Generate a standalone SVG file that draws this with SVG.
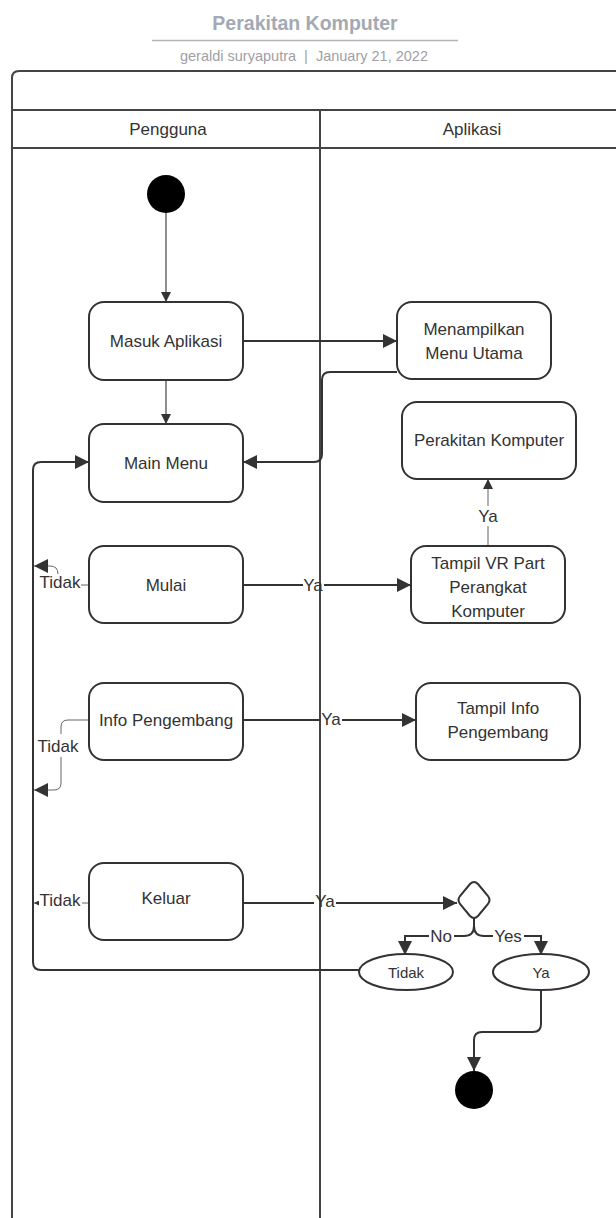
<svg xmlns="http://www.w3.org/2000/svg" width="616" height="1218" viewBox="0 0 616 1218">
  <style>
    .lbl { font-family: "Liberation Sans", Arial, sans-serif; font-size: 17px; fill: #333; text-anchor: middle; dominant-baseline: central; }
    .small { font-size: 15px; }
    .box { fill: #fff; stroke: #333; stroke-width: 2; }
    .lane { fill: none; stroke: #444; stroke-width: 2; }
    .edge { fill: none; stroke: #333; stroke-width: 2; }
    .thin { fill: none; stroke: #444; stroke-width: 1.2; }
    .faint { fill: none; stroke: #666; stroke-width: 1; }
    .tag { font-family: "Liberation Sans", Arial, sans-serif; font-size: 17px; fill: #333; text-anchor: middle; dominant-baseline: central; }
  </style>
  <defs>
    <marker id="arrow" viewBox="0 0 10 10" refX="10" refY="5" markerWidth="10" markerHeight="10" markerUnits="userSpaceOnUse" orient="auto">
      <path d="M0,0 L10,5 L0,10 z" fill="#333"/>
    </marker>
    <marker id="arrowL" viewBox="0 0 10 10" refX="10" refY="5" markerWidth="18" markerHeight="14" markerUnits="userSpaceOnUse" orient="auto">
      <path d="M0,0 L10,5 L0,10 z" fill="#333"/>
    </marker>
    <marker id="arrowS" viewBox="0 0 10 10" refX="10" refY="5" markerWidth="5" markerHeight="5" markerUnits="userSpaceOnUse" orient="auto">
      <path d="M0,0 L10,5 L0,10 z" fill="#333"/>
    </marker>
  </defs>

  <!-- header -->
  <g id="title">
    <text x="305" y="23" font-family="Liberation Sans, Arial, sans-serif" font-size="19.5" font-weight="bold" fill="#a4a9b3" text-anchor="middle" dominant-baseline="central">Perakitan Komputer</text>
    <line x1="152" y1="40.5" x2="458" y2="40.5" stroke="#b4b4b8" stroke-width="1.5"/>
    <text x="304" y="56" font-family="Liberation Sans, Arial, sans-serif" font-size="14.5" fill="#a0a0a6" text-anchor="middle" dominant-baseline="central" xml:space="preserve">geraldi suryaputra  |  January 21, 2022</text>
  </g>

  <!-- swimlane frame -->
  <g id="pool">
    <path class="lane" d="M630,71 H19 Q12,71 12,78 V1230"/>
    <line class="lane" x1="12" y1="110" x2="630" y2="110"/>
    <line class="lane" x1="12" y1="148" x2="630" y2="148"/>
    <line class="lane" x1="320" y1="110" x2="320" y2="1230"/>
    <text class="lbl" x="168" y="129">Pengguna</text>
    <text class="lbl" x="472" y="129">Aplikasi</text>
  </g>

  <!-- connectors -->
  <g id="connectors">
    <line class="thin" x1="166" y1="213" x2="166" y2="302" marker-end="url(#arrow)"/>
    <line class="thin" x1="166" y1="380" x2="166" y2="424" marker-end="url(#arrow)"/>
    <line class="edge" x1="243" y1="341" x2="397" y2="341" marker-end="url(#arrowL)"/>
    <path class="edge" d="M397,372 H330 Q322,372 322,380 V454 Q322,462 314,462 H243" marker-end="url(#arrowL)"/>
    <path class="edge" d="M359,970 H41 Q33,970 33,962 V470 Q33,462 41,462 H89" marker-end="url(#arrowL)"/>

    <!-- Mulai -->
    <line class="edge" x1="243" y1="585" x2="303" y2="585"/>
    <line class="edge" x1="324" y1="585" x2="411" y2="585" marker-end="url(#arrowL)"/>
    <path class="faint" d="M89,585 H81"/>
    <path class="faint" d="M58,574 Q58,566 50,566 H34" marker-end="url(#arrowL)"/>
    <line class="faint" x1="488" y1="546" x2="488" y2="526"/>
    <line class="faint" x1="488" y1="506" x2="488" y2="479" marker-end="url(#arrow)"/>

    <!-- Info Pengembang -->
    <line class="edge" x1="243" y1="720" x2="320" y2="720"/>
    <line class="edge" x1="342" y1="720" x2="416" y2="720" marker-end="url(#arrowL)"/>
    <path class="faint" d="M89,720 H68 Q61,720 61,727 V734"/>
    <path class="faint" d="M61,757 V783 Q61,790 54,790 H34" marker-end="url(#arrowL)"/>

    <!-- Keluar -->
    <line class="edge" x1="243" y1="903" x2="314" y2="903"/>
    <line class="edge" x1="336" y1="903" x2="457" y2="903" marker-end="url(#arrowL)"/>
    <path class="faint" d="M89,903 H82"/>
    <path class="faint" d="M38,903 H34" marker-end="url(#arrowS)"/>

    <!-- decision branches -->
    <path class="edge" d="M474,918 V926 Q474,936 464,936 H454"/>
    <path class="edge" d="M429,936 H405 V955" marker-end="url(#arrowL)"/>
    <path class="edge" d="M474,918 V926 Q474,936 484,936 H493"/>
    <path class="edge" d="M524,936 H541 V955" marker-end="url(#arrowL)"/>
    <path class="edge" d="M541,990 V1024 Q541,1032 533,1032 H482 Q474,1032 474,1040 V1071" marker-end="url(#arrowL)"/>

    <!-- edge labels -->
    <text class="tag" x="313" y="585">Ya</text>
    <text class="tag" x="331" y="719">Ya</text>
    <text class="tag" x="325" y="901">Ya</text>
    <text class="tag" x="488" y="516">Ya</text>
    <text class="tag" x="60" y="582">Tidak</text>
    <text class="tag" x="58" y="746">Tidak</text>
    <text class="tag" x="60" y="900">Tidak</text>
    <text class="tag" x="441" y="936">No</text>
    <text class="tag" x="508" y="936">Yes</text>
  </g>

  <!-- nodes -->
  <g id="start"><circle cx="166" cy="194" r="19" fill="#000"/></g>
  <g id="masuk-aplikasi">
    <rect class="box" x="89" y="302" width="154" height="78" rx="15"/>
    <text class="lbl" x="166" y="341">Masuk Aplikasi</text>
  </g>
  <g id="main-menu">
    <rect class="box" x="89" y="424" width="154" height="78" rx="15"/>
    <text class="lbl" x="166" y="463">Main Menu</text>
  </g>
  <g id="menampilkan-menu-utama">
    <rect class="box" x="397" y="302" width="154" height="77" rx="15"/>
    <text class="lbl" x="474" y="329">Menampilkan</text>
    <text class="lbl" x="474" y="353">Menu Utama</text>
  </g>
  <g id="perakitan-komputer">
    <rect class="box" x="402" y="402" width="174" height="77" rx="15"/>
    <text class="lbl" x="489" y="440">Perakitan Komputer</text>
  </g>
  <g id="mulai">
    <rect class="box" x="89" y="546" width="154" height="77" rx="15"/>
    <text class="lbl" x="166" y="585">Mulai</text>
  </g>
  <g id="tampil-vr">
    <rect class="box" x="411" y="546" width="154" height="77" rx="15"/>
    <text class="lbl" x="488" y="563">Tampil VR Part</text>
    <text class="lbl" x="488" y="587">Perangkat</text>
    <text class="lbl" x="488" y="611">Komputer</text>
  </g>
  <g id="info-pengembang">
    <rect class="box" x="89" y="683" width="154" height="77" rx="15"/>
    <text class="lbl" x="166" y="720">Info Pengembang</text>
  </g>
  <g id="tampil-info">
    <rect class="box" x="416" y="683" width="164" height="77" rx="15"/>
    <text class="lbl" x="498" y="708">Tampil Info</text>
    <text class="lbl" x="498" y="732">Pengembang</text>
  </g>
  <g id="keluar">
    <rect class="box" x="89" y="863" width="154" height="77" rx="15"/>
    <text class="lbl" x="166" y="898">Keluar</text>
  </g>
  <g id="decision">
    <path class="box" d="M470,884 Q474,880 478,884 L488,896 Q491,900 488,904 L478,916 Q474,920 470,916 L460,904 Q457,900 460,896 Z"/>
  </g>
  <g id="tidak">
    <ellipse class="box" cx="406" cy="972" rx="47" ry="18"/>
    <text class="lbl small" x="406" y="972">Tidak</text>
  </g>
  <g id="ya">
    <ellipse class="box" cx="541" cy="972" rx="48" ry="18"/>
    <text class="lbl small" x="541" y="972">Ya</text>
  </g>
  <g id="end"><circle cx="474" cy="1090" r="19" fill="#000"/></g>
</svg>
